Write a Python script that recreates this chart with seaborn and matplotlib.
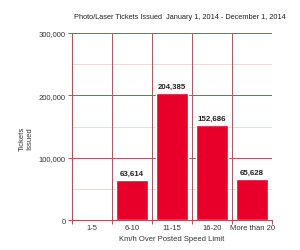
import matplotlib
matplotlib.use("Agg")
import matplotlib.pyplot as plt
import seaborn as sns
import pandas as pd
import numpy as np

categories = ["1-5", "6-10", "11-15", "16-20", "More than 20"]
tickets = [0, 63614, 204385, 152686, 65628]
value_labels = ["", "63,614", "204,385", "152,686", "65,628"]

sns.set_theme(style="white")
plt.rcParams['font.family'] = ['Liberation Sans', 'DejaVu Sans']

df = pd.DataFrame({"cat": categories, "val": tickets})

fig = plt.figure(figsize=(3.0, 2.51), dpi=100)
ax = fig.add_axes([0.24, 0.1195, 0.667, 0.745])

major_c = "#a05a5a"
minor_c = "#e6d3d3"
text_c = "#333333"

for v in [50000, 150000, 250000]:
    ax.axhline(v, color=minor_c, lw=0.6, zorder=0)
for v in [100000, 200000, 300000]:
    ax.axhline(v, color=major_c, lw=0.7, zorder=0)
for b in np.arange(0.5, 5.0, 1.0):
    ax.axvline(b, color=major_c, lw=0.7, zorder=0)

sns.barplot(data=df, x="cat", y="val", order=categories, color="#e8002a",
            width=0.8, saturation=1, ax=ax, zorder=2)

for i, (v, lab) in enumerate(zip(tickets, value_labels)):
    if lab:
        ax.text(i, v + 5000, lab, ha="center", va="bottom", fontsize=5.7,
                fontweight="bold", color="#222222")

ax.set_xlim(-0.5, 4.5)
ax.set_ylim(0, 300000)
ax.set_yticks([0, 100000, 200000, 300000])
ax.set_yticklabels(["0", "100,000", "200,000", "300,000"], fontsize=5.5, color=text_c)
ax.set_xticks(np.arange(-0.5, 5.0, 1.0))
ax.set_xticklabels([])
ax.set_xticks(range(5), minor=True)
ax.set_xticklabels(categories, minor=True, fontsize=5.5, color=text_c)
ax.tick_params(axis="x", which="major", length=3, color=major_c, width=0.7, direction="out", bottom=True)
ax.tick_params(axis="x", which="minor", length=0, pad=3)
ax.tick_params(axis="y", which="major", length=3, color=major_c, width=0.7, direction="out", left=True, pad=1.5)

for s in ["top", "right"]:
    ax.spines[s].set_visible(False)
for s in ["left", "bottom"]:
    ax.spines[s].set_color(major_c)
    ax.spines[s].set_linewidth(0.8)

ax.set_xlabel("Km/h Over Posted Speed Limit", fontsize=5.5, color=text_c, labelpad=3)
ax.set_ylabel("")
fig.text(26 / 300, 1 - 139 / 251, "Tickets\nIssued", rotation=90, ha="center", va="center",
         fontsize=5.5, color=text_c, linespacing=1.0)
fig.text(0.6, 0.93, "Photo/Laser Tickets Issued  January 1, 2014 - December 1, 2014",
         ha="center", va="center", fontsize=5.3, color="#222222")

fig.savefig("out.png", dpi=100, facecolor="white")
